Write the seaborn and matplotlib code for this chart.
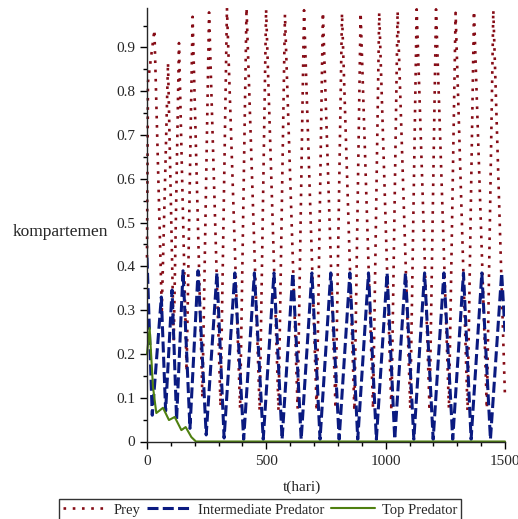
import numpy as np
import matplotlib
matplotlib.use("Agg")
import matplotlib.pyplot as plt
from matplotlib.ticker import MultipleLocator
import seaborn as sns

# prey: start, then alternating peak / trough
prey_t = [0, 4, 31, 62, 88, 112, 134, 166, 191, 232, 260, 308, 335, 390, 417, 472,
          499, 551, 578, 631, 658, 711, 737, 790, 817, 869, 895, 947, 973, 1024,
          1050, 1103, 1130, 1184, 1211, 1265, 1293, 1343, 1370, 1424, 1451, 1500]
prey_v = [0.42, 0.82, 0.94, 0.30, 0.865, 0.23, 0.91, 0.16, 0.97, 0.10, 0.98, 0.08, 0.99, 0.075, 0.99, 0.07,
          0.987, 0.07, 0.975, 0.075, 0.985, 0.07, 0.98, 0.075, 0.978, 0.07, 0.979, 0.075, 0.98, 0.07,
          0.983, 0.075, 0.987, 0.07, 0.987, 0.075, 0.979, 0.07, 0.983, 0.075, 0.985, 0.10]

# intermediate predator: start, then alternating trough / peak
mid_t = [0, 22, 60, 78, 105, 124, 151, 180, 214, 248, 293, 323, 368, 405, 450, 487,
         532, 566, 611, 646, 691, 725, 770, 805, 850, 883, 928, 961, 1006, 1038,
         1083, 1118, 1163, 1199, 1244, 1281, 1326, 1358, 1403, 1439, 1486, 1500]
mid_v = [0.42, 0.06, 0.33, 0.07, 0.346, 0.05, 0.39, 0.03, 0.39, 0.015, 0.385, 0.008, 0.385, 0.005, 0.385, 0.005,
         0.385, 0.005, 0.385, 0.005, 0.385, 0.005, 0.385, 0.005, 0.385, 0.005, 0.385, 0.005, 0.385, 0.005,
         0.385, 0.005, 0.385, 0.005, 0.385, 0.005, 0.385, 0.005, 0.385, 0.005, 0.385, 0.25]

# top predator
top_t = [0, 11, 25, 39, 67, 92, 116, 144, 162, 186, 205, 1500]
top_v = [0.20, 0.259, 0.125, 0.065, 0.077, 0.049, 0.056, 0.026, 0.033, 0.01, 0.0, 0.0]

sns.set_style("ticks")
plt.rcParams["font.family"] = ["Liberation Serif", "DejaVu Serif"]
plt.rcParams["axes.linewidth"] = 1.0

fig = plt.figure(figsize=(5.18, 5.19), dpi=100)
ax = fig.add_axes([147 / 518, 1 - 441.5 / 519, 358 / 518, 433.5 / 519])

sns.lineplot(x=prey_t, y=prey_v, ax=ax, color="#860c16", lw=1.9,
             linestyle=(0, (1.0, 2.5)), label="Prey", clip_on=False)
sns.lineplot(x=mid_t, y=mid_v, ax=ax, color="#0a1a80", lw=2.2,
             linestyle=(0, (3.6, 1.4)), label="Intermediate Predator")
sns.lineplot(x=top_t, y=top_v, ax=ax, color="#4f8010", lw=1.5,
             label="Top Predator", clip_on=False)

ax.set_xlim(0, 1500)
ax.set_ylim(0, 0.99)
ax.set_xticks([0, 500, 1000, 1500])
ax.xaxis.set_minor_locator(MultipleLocator(100))
ax.set_yticks(np.round(np.arange(0, 0.95, 0.1), 1))
ax.set_yticklabels(["0"] + [f"{v:.1f}" for v in np.arange(0.1, 0.95, 0.1)])
ax.yaxis.set_minor_locator(MultipleLocator(0.05))
ax.tick_params(which="major", direction="out", length=5, width=1, labelsize=11, color="black")
ax.tick_params(which="minor", direction="out", length=3, width=1, color="black")
ax.tick_params(axis="x", which="major", pad=5)
sns.despine(ax=ax)

ax.set_xlabel("t(hari)", fontsize=11)
ax.xaxis.set_label_coords(155 / 358, -0.089)
ax.set_ylabel("kompartemen", fontsize=12.5, rotation=0, ha="center", va="center")
ax.yaxis.set_label_coords(-87 / 358, 0.483)

ax.get_legend().remove()
h, l = ax.get_legend_handles_labels()
leg = fig.legend(h, l, loc="upper center", bbox_to_anchor=(0.502, 1 - 499 / 519), ncol=3,
                 frameon=True, fancybox=False, edgecolor="black", fontsize=10.5,
                 handlelength=3.0, handletextpad=0.45, columnspacing=0.5, borderpad=0.3,
                 borderaxespad=0)
leg.get_frame().set_linewidth(1.0)

fig.savefig("out.png", dpi=100)
